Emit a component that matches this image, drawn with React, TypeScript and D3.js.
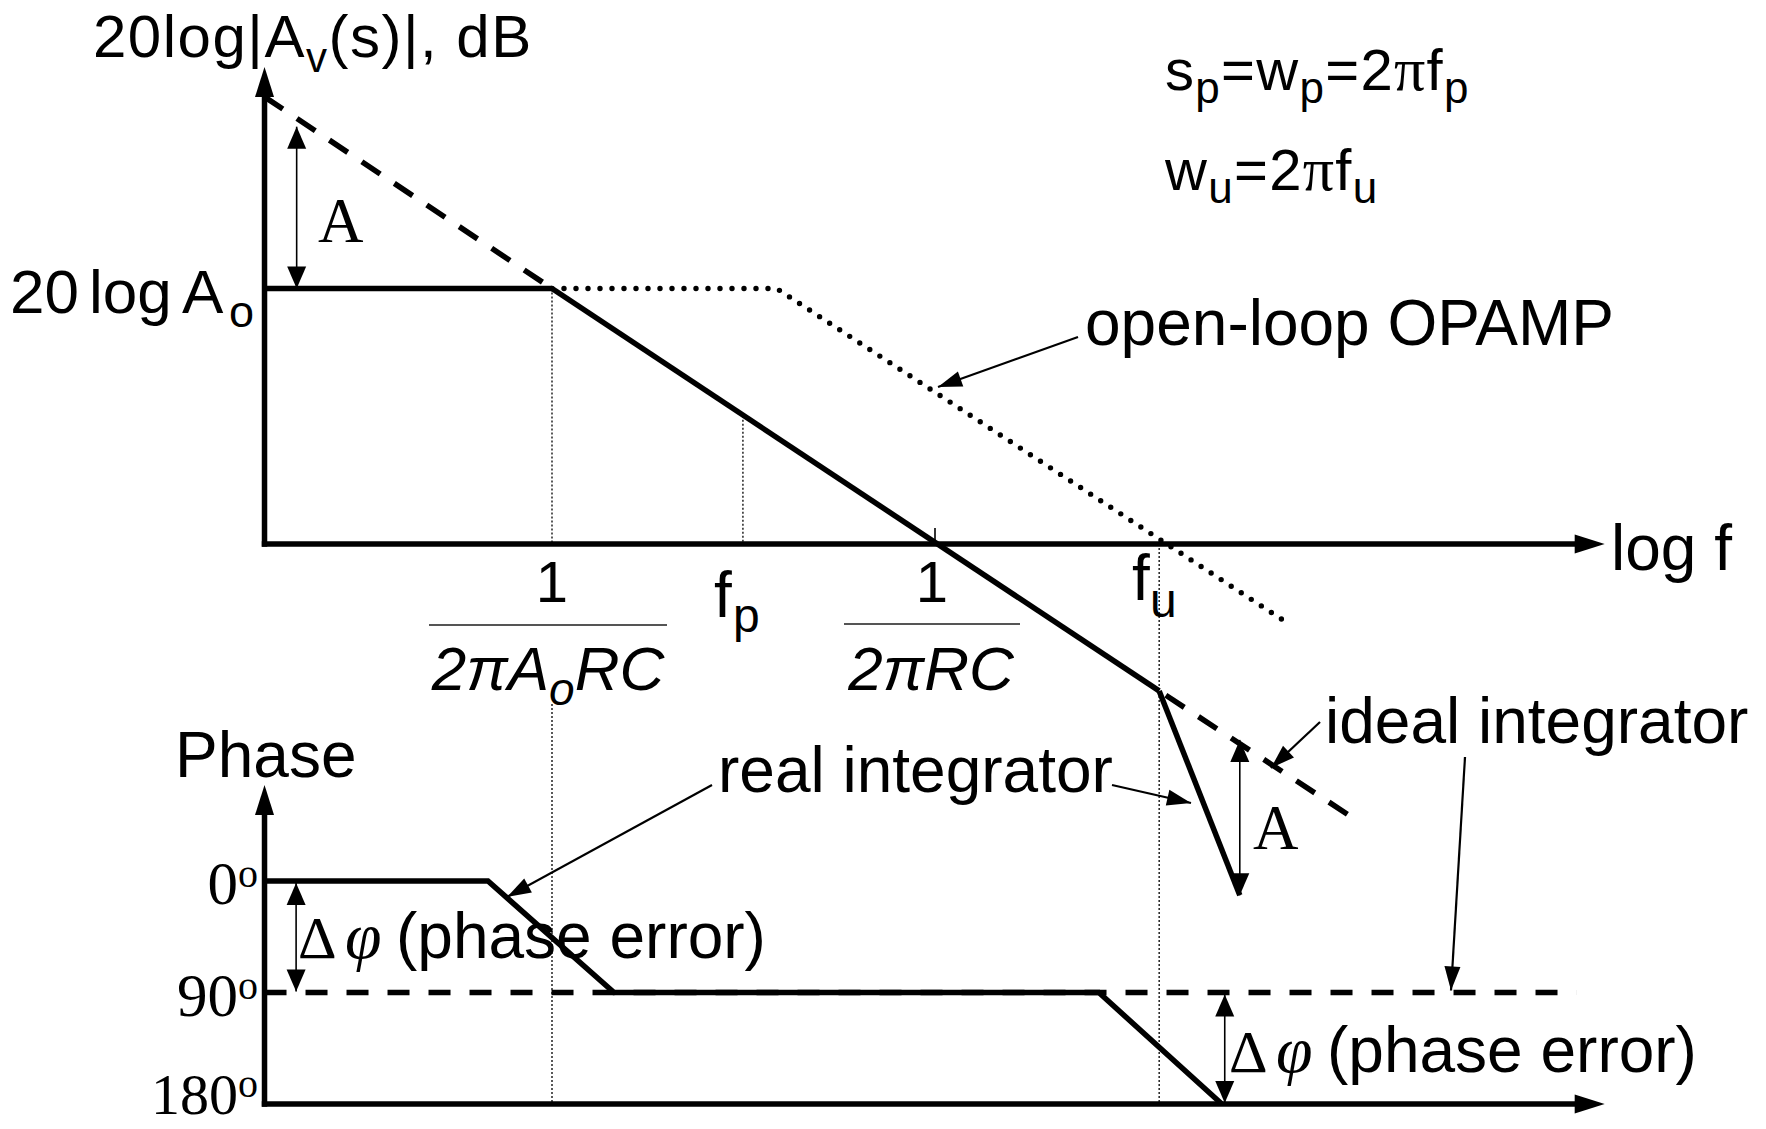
import React from 'react';
import * as d3 from 'd3';

const W = 1766;
const H = 1129;

const SANS = "'Liberation Sans', Arial, Helvetica, sans-serif";
const SERIF = "'Liberation Serif', 'Times New Roman', serif";

type MagPt = { f: number; db: number };
type PhPt = { f: number; deg: number };

// Frequency anchors on the log-f axis (Hz)
const F_AXIS = 0.0056; // where the two axes start
const F_1 = 1; // 1/(2πA0RC)
const F_P = 31.3; // fp
const F_RC = 1000; // 1/(2πRC)
const F_U = 57000; // fu
const F_END = 1.76e8; // arrow tip of the frequency axes

const A0_DB = 60; // 20 log A0

// Magnitude (dB) segments
const dcGain: MagPt[] = [
  { f: F_AXIS, db: A0_DB },
  { f: F_1, db: A0_DB },
];
const idealLeft: MagPt[] = [
  { f: F_AXIS, db: 105 },
  { f: F_1, db: A0_DB },
];
const integrator: MagPt[] = [
  { f: F_1, db: A0_DB },
  { f: F_U, db: -34.5 },
];
const idealRight: MagPt[] = [
  { f: F_U, db: -34.5 },
  { f: 1.81e6, db: -64 },
];
const realDrop: MagPt[] = [
  { f: F_U, db: -34.5 },
  { f: 2.44e5, db: -82.5 },
];
const openLoop: MagPt[] = [
  { f: F_1, db: A0_DB },
  { f: 57.5, db: A0_DB },
  { f: 5.4e5, db: -18 },
];
// Double arrows marking the gain deviation A
const gainArrows = [
  { f: 0.01, from: A0_DB, to: 98 },
  { f: 2.44e5, from: -46, to: -82.5 },
];

// Phase (degrees, drawn downwards)
const phaseTicks = [0, 90, 180];
const realPhase: PhPt[] = [
  { f: F_AXIS, deg: 0 },
  { f: 0.315, deg: 0 },
  { f: 3.06, deg: 90 },
  { f: 19200, deg: 90 },
  { f: 176500, deg: 180 },
];
const idealPhase: PhPt[] = [
  { f: F_AXIS, deg: 90 },
  { f: 1.06e8, deg: 90 },
];
const phaseErrArrows = [
  { f: 0.0099, from: 0, to: 90 },
  { f: 1.86e5, from: 90, to: 180 },
];

// Scales
const x = d3.scaleLog().domain([F_1, F_RC]).range([552, 935]);
const y = d3.scaleLinear().domain([0, A0_DB]).range([544, 288.5]);
const yPh = d3.scaleLinear().domain([0, 180]).range([881, 1104]);

const magLine = d3
  .line<MagPt>()
  .x((d) => x(d.f))
  .y((d) => y(d.db));
const phLine = d3
  .line<PhPt>()
  .x((d) => x(d.f))
  .y((d) => yPh(d.deg));

function head(tx: number, ty: number, fx: number, fy: number, len: number, hw: number) {
  const dx = tx - fx;
  const dy = ty - fy;
  const L = Math.hypot(dx, dy);
  const ux = dx / L;
  const uy = dy / L;
  const bx = tx - ux * len;
  const by = ty - uy * len;
  return `M${tx},${ty}L${bx - uy * hw},${by + ux * hw}L${bx + uy * hw},${by - ux * hw}Z`;
}

function Leader({ x1, y1, x2, y2 }: { x1: number; y1: number; x2: number; y2: number }) {
  return (
    <g>
      <line x1={x1} y1={y1} x2={x2} y2={y2} stroke="#000" strokeWidth={2.2} />
      <path d={head(x2, y2, x1, y1, 24, 8)} fill="#000" />
    </g>
  );
}

function DoubleArrow({ xx, y1, y2 }: { xx: number; y1: number; y2: number }) {
  return (
    <g>
      <line x1={xx} y1={y1} x2={xx} y2={y2} stroke="#000" strokeWidth={1.6} />
      <path d={head(xx, y1, xx, y2, 22, 9.5)} fill="#000" />
      <path d={head(xx, y2, xx, y1, 22, 9.5)} fill="#000" />
    </g>
  );
}

export default function App() {
  const x0 = x(F_AXIS);
  const xEnd = x(F_END);
  const yZero = y(0);
  const yTop = 67;
  const phTop = 785;
  const phBottom = yPh(180);
  const thin = { stroke: '#000', strokeWidth: 1.3, strokeDasharray: '2 2', fill: 'none' };
  const thick = { stroke: '#000', strokeWidth: 5.5, fill: 'none' };

  return (
    <div style={{ position: 'fixed', left: 0, top: 0, width: W, height: H, background: '#fff' }}>
      <svg width={W} height={H} viewBox={`0 0 ${W} ${H}`} style={{ display: 'block' }}>
        <rect width={W} height={H} fill="#fff" />

        {/* thin dotted guides */}
        <line x1={x(F_1)} x2={x(F_1)} y1={y(A0_DB)} y2={yZero} {...thin} />
        <line x1={x(F_1)} x2={x(F_1)} y1={704} y2={phBottom} {...thin} />
        <line x1={x(F_P)} x2={x(F_P)} y1={y(A0_DB - 20 * Math.log10(F_P / F_1))} y2={yZero} {...thin} />
        <line x1={x(F_U)} x2={x(F_U)} y1={yZero} y2={phBottom} {...thin} />

        {/* ---------- magnitude plot ---------- */}
        <line x1={x0} x2={x0} y1={yZero + 2.75} y2={yTop + 28} {...thick} />
        <path d={head(x0, yTop, x0, yTop + 50, 30, 9.5)} fill="#000" />
        <line x1={x0 - 2.75} x2={xEnd - 28} y1={yZero} y2={yZero} {...thick} />
        <path d={head(xEnd, yZero, xEnd - 50, yZero, 30, 9.5)} fill="#000" />
        <line x1={x(F_RC)} x2={x(F_RC)} y1={yZero - 16} y2={yZero} stroke="#000" strokeWidth={1.6} />

        <path d={magLine(openLoop) ?? ''} stroke="#000" strokeWidth={5.4} strokeLinecap="round" strokeDasharray="0 12" fill="none" />
        <path d={magLine(idealLeft) ?? ''} stroke="#000" strokeWidth={5.5} strokeDasharray="22 17" fill="none" />
        <path d={magLine(idealRight) ?? ''} stroke="#000" strokeWidth={5.5} strokeDasharray="22 17" strokeDashoffset={-8} fill="none" />
        <path d={magLine(dcGain) ?? ''} {...thick} />
        <path d={magLine(integrator) ?? ''} {...thick} strokeLinejoin="round" />
        <path d={magLine(realDrop) ?? ''} {...thick} />

        {gainArrows.map((a, i) => (
          <DoubleArrow key={i} xx={x(a.f)} y1={y(a.to)} y2={y(a.from)} />
        ))}

        {/* ---------- phase plot ---------- */}
        <line x1={x0} x2={x0} y1={phBottom + 2.75} y2={phTop + 28} {...thick} />
        <path d={head(x0, phTop, x0, phTop + 50, 30, 9.5)} fill="#000" />
        <line x1={x0 - 2.75} x2={xEnd - 28} y1={phBottom} y2={phBottom} {...thick} />
        <path d={head(xEnd, phBottom, xEnd - 50, phBottom, 30, 9.5)} fill="#000" />

        <path d={phLine(idealPhase) ?? ''} stroke="#000" strokeWidth={5.5} strokeDasharray="22 19" fill="none" />
        <path d={phLine(realPhase) ?? ''} {...thick} strokeLinejoin="miter" />

        {phaseErrArrows.map((a, i) => (
          <DoubleArrow key={i} xx={x(a.f)} y1={yPh(a.from) + 2} y2={yPh(a.to) - 1} />
        ))}

        {/* leaders */}
        <Leader x1={1078} y1={337} x2={938} y2={387} />
        <Leader x1={712} y1={785} x2={507} y2={897} />
        <Leader x1={1112} y1={785} x2={1191} y2={803} />
        <Leader x1={1320} y1={722} x2={1271} y2={768} />
        <Leader x1={1465} y1={757} x2={1451} y2={yPh(90) - 2} />

        {/* ---------- text ---------- */}
        <g fontFamily={SANS} fill="#000">
          <text x={93} y={57} fontSize={60} letterSpacing={1.5}>
            20log|A<tspan fontSize={42} dy={15}>v</tspan>
            <tspan dy={-15}>(s)|, dB</tspan>
          </text>

          <text x={10} y={313} fontSize={62}>20</text>
          <text x={89} y={313} fontSize={62}>log</text>
          <text x={182} y={313} fontSize={62}>A</text>
          <text x={229} y={327} fontSize={45}>o</text>

          <text x={1165} y={90} fontSize={58} letterSpacing={1.3}>
            s<tspan fontSize={44} dy={13}>p</tspan>
            <tspan dy={-13}>=w</tspan>
            <tspan fontSize={44} dy={13}>p</tspan>
            <tspan dy={-13}>=2</tspan>
            <tspan fontFamily={SERIF} fontSize={62}>π</tspan>
            <tspan>f</tspan>
            <tspan fontSize={44} dy={13}>p</tspan>
          </text>
          <text x={1165} y={190} fontSize={58} letterSpacing={1.3}>
            w<tspan fontSize={44} dy={13}>u</tspan>
            <tspan dy={-13}>=2</tspan>
            <tspan fontFamily={SERIF} fontSize={62}>π</tspan>
            <tspan>f</tspan>
            <tspan fontSize={44} dy={13}>u</tspan>
          </text>

          <text x={1085} y={345} fontSize={64}>open-loop OPAMP</text>
          <text x={1611} y={570} fontSize={64}>log f</text>

          <text x={x(F_1)} y={602} fontSize={58} textAnchor="middle">1</text>
          <line x1={429} x2={667} y1={625} y2={625} stroke="#555" strokeWidth={2.2} />
          <text x={548} y={690} fontSize={62} fontStyle="italic" textAnchor="middle">
            2πA<tspan fontSize={46} dy={15}>o</tspan>
            <tspan dy={-15}>RC</tspan>
          </text>

          <text x={714} y={617} fontSize={64}>f</text>
          <text x={733} y={632} fontSize={48}>p</text>

          <text x={932} y={602} fontSize={58} textAnchor="middle">1</text>
          <line x1={844} x2={1020} y1={624} y2={624} stroke="#555" strokeWidth={2.2} />
          <text x={931} y={690} fontSize={62} fontStyle="italic" textAnchor="middle">2πRC</text>

          <text x={1132} y={600} fontSize={64}>f</text>
          <text x={1150} y={617} fontSize={48}>u</text>

          <text x={1325} y={743} fontSize={64}>ideal integrator</text>
          <text x={718} y={792} fontSize={64}>real integrator</text>
          <text x={175} y={777} fontSize={64}>Phase</text>

          <text x={396} y={958} fontSize={64}>(phase error)</text>
          <text x={1327} y={1072} fontSize={64}>(phase error)</text>
        </g>

        <g fontFamily={SERIF} fill="#000">
          <text x={318} y={242} fontSize={63}>A</text>
          <text x={1253} y={849} fontSize={63}>A</text>

          {phaseTicks.map((t, i) => (
            <text key={t} x={258} y={i === 2 ? 1114 : yPh(t) + 23} fontSize={i === 2 ? 58 : 61} textAnchor="end">
              {t}
              <tspan fontSize={40} dy={-17}>o</tspan>
            </text>
          ))}

          <text x={298} y={958} fontSize={60}>Δ</text>
          <text x={345} y={958} fontSize={66} fontStyle="italic">φ</text>
          <text x={1229} y={1072} fontSize={60}>Δ</text>
          <text x={1276} y={1072} fontSize={66} fontStyle="italic">φ</text>
        </g>
      </svg>
    </div>
  );
}
